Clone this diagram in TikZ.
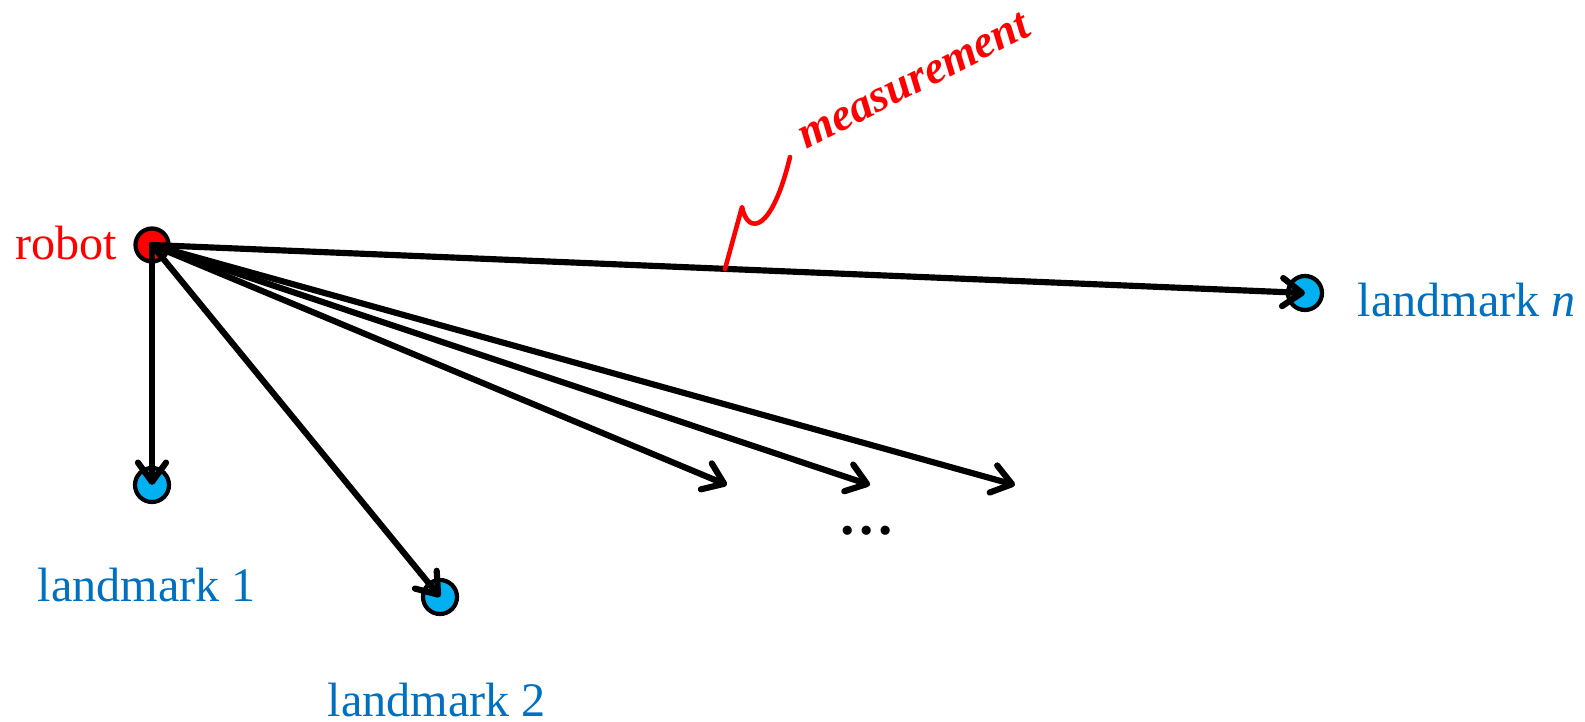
\documentclass[tikz,border=0pt]{standalone}
\usepackage{fontspec}
\setmainfont{Liberation Serif}
\usepackage{xcolor}
\usetikzlibrary{arrows.meta,positioning,calc}

\definecolor{robotred}{RGB}{255,0,0}
\definecolor{markfill}{RGB}{0,176,240}
\definecolor{markblue}{RGB}{0,112,192}

\tikzset{
  robotdot/.style={circle,draw=black,line width=1.2pt,fill=robotred,minimum size=0.33cm,inner sep=0pt},
  markdot/.style={circle,draw=black,line width=1.2pt,fill=markfill,minimum size=0.34cm,inner sep=0pt},
  marklabel/.style={text=markblue,font=\fontsize{13.7}{16}\selectfont,inner sep=0pt},
  meas/.style={line width=1.75pt,line cap=round,-{Straight Barb[length=5.5pt,width=8pt,line cap=round,line join=round]}},
}

\begin{document}
\begin{tikzpicture}[x=0.01cm,y=-0.01cm]
  \useasboundingbox (0,0) rectangle (1585,722);

  % robot and landmarks
  \node[robotdot] (robot) at (152,245) {};
  \node[markdot] (lm1) at (152,485) {};
  \node[markdot] (lm2) at (440,597) {};
  \node[markdot] (lmn) at (1305,293) {};
  \coordinate (e1) at (727,485);
  \coordinate (e2) at (870,485);
  \coordinate (e3) at (1015,485);

  % labels
  \node[text=robotred,font=\fontsize{13.7}{16}\selectfont,inner sep=0pt] (robotlbl) at (66,243) {robot};
  \node[marklabel] (lbl1) at (147,585) {landmark 1};
  \node[marklabel] (lbl2) at (437,700) {landmark 2};
  \node[marklabel,anchor=west] (lbln) at (1357,300) {landmark \textit{n}};
  \node[font=\bfseries\fontsize{16}{18}\selectfont,inner sep=0pt] (dots) at (867,531) {\dots};

  % measurements
  \draw[meas] (robot.center) -- (lm1.center);
  \draw[meas] (robot.center) -- (lm2.center);
  \draw[meas] (robot.center) -- (e1);
  \draw[meas] (robot.center) -- (e2);
  \draw[meas] (robot.center) -- (e3);
  \draw[meas] (robot.center) -- coordinate[pos=0.497] (m) (lmn.center);

  % handwritten note
  \draw[robotred,line width=1.3pt,line cap=round,line join=round]
    (m) -- (742,207) .. controls (748,236) and (772,232) .. (790,157);
  \node[text=robotred,font=\bfseries\itshape\fontsize{13}{16}\selectfont,rotate=27,anchor=base west,inner sep=0pt]
    (measlbl) at (806,150) {measurement};
\end{tikzpicture}
\end{document}
